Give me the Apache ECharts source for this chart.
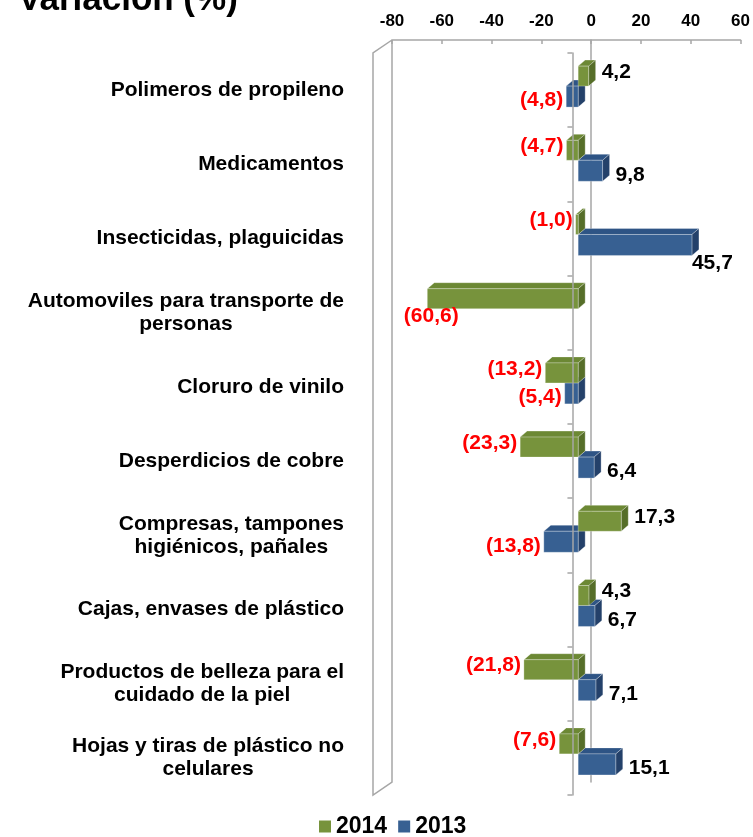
<!DOCTYPE html>
<html>
<head>
<meta charset="utf-8">
<script src="https://cdn.jsdelivr.net/npm/echarts@6/dist/echarts.min.js"></script>
<style>
  html, body { margin: 0; padding: 0; background: #ffffff; }
  #chart { width: 753px; height: 837px; }
</style>
</head>
<body>
<div id="chart"></div>
<script>
// Product categories (top to bottom)
const categories = [
  'Polimeros de propileno',
  'Medicamentos',
  'Insecticidas, plaguicidas',
  'Automoviles para transporte de\npersonas',
  'Cloruro de vinilo',
  'Desperdicios de cobre',
  'Compresas, tampones\nhigiénicos, pañales',
  'Cajas, envases de plástico',
  'Productos de belleza para el\ncuidado de la piel',
  'Hojas y tiras de plástico no\ncelulares'
];

// Annual variation, %
const values2014 = [4.2, -4.7, -1.0, -60.6, -13.2, -23.3, 17.3, 4.3, -21.8, -7.6];
const values2013 = [-4.8, 9.8, 45.7, null, -5.4, 6.4, -13.8, 6.7, 7.1, 15.1];

// Value axis ticks
const axisMin = -80;
const axisMax = 60;
const axisStep = 20;

const seriesNames = ['2014', '2013'];

const FONT = "'Liberation Sans', Arial, sans-serif";
const GRID_LINE = '#A6A6A6';

// 3D look: back wall plane holds the value axis, front plane holds the category axis
const WALL = [-19, 13];       // front plane offset from back plane
const BAR_FRONT = -13;        // bar front face offset from back plane (x)
const BAR_DEPTH = [7, -6];    // extrusion of the bar toward the back

const COLORS = {
  '2014': { front: '#77933C', top: '#6C8834', side: '#566E29', edge: 'rgba(255,255,255,0.35)' },
  '2013': { front: '#376092', top: '#2E5485', side: '#24416A', edge: 'rgba(255,255,255,0.35)' }
};

const backGrid = { left: 392, right: 12, top: 40, bottom: 55 };
const frontGrid = {
  left: backGrid.left + WALL[0],
  right: backGrid.right - WALL[0],
  top: backGrid.top + WALL[1],
  bottom: backGrid.bottom - WALL[1]
};

function fmt(v) {
  const s = Math.abs(v).toFixed(1).replace('.', ',');
  return v < 0 ? '(' + s + ')' : s;
}

// slot 0 = upper bar of the pair, slot 1 = lower bar
function makeBarRenderer(name, slot) {
  const col = COLORS[name];
  return function (params, api) {
    const v = api.value(0);
    const cat = api.value(1);
    if (v == null || isNaN(v)) return null;
    const band = api.size([0, 1])[1];
    const p0 = api.coord([0, cat]);
    const p1 = api.coord([v, cat]);
    const c = p0[1];
    const top = slot === 0 ? c - 0.148 * band : c + 0.121 * band;
    const bot = slot === 0 ? c + 0.121 * band : c + 0.404 * band;
    const xa = Math.min(p0[0], p1[0]) + BAR_FRONT;
    const xb = Math.max(p0[0], p1[0]) + BAR_FRONT;
    const dx = BAR_DEPTH[0], dy = BAR_DEPTH[1];

    const children = [
      {
        type: 'polygon',
        shape: { points: [[xa, top], [xa + dx, top + dy], [xb + dx, top + dy], [xb, top]] },
        style: { fill: col.top, stroke: col.edge, lineWidth: 0.8 }
      },
      {
        type: 'polygon',
        shape: { points: [[xb, top], [xb + dx, top + dy], [xb + dx, bot + dy], [xb, bot]] },
        style: { fill: col.side, stroke: col.edge, lineWidth: 0.8 }
      },
      {
        type: 'rect',
        shape: { x: xa, y: top, width: xb - xa, height: bot - top },
        style: { fill: col.front, stroke: col.edge, lineWidth: 0.8 }
      }
    ];

    // value label
    const shift = slot === 0 ? -4 : 4;
    let tx, ty, align;
    const yc = (top + bot) / 2 + shift;
    if (Math.abs(v) > 40) {
      // long bars carry their label just under the far end
      ty = bot + 8;
      if (v < 0) { tx = xa + 4; align = 'center'; }
      else { tx = xb; align = 'left'; }
    } else if (v < 0) {
      tx = xa - 3; ty = yc; align = 'right';
    } else {
      tx = xb + 13; ty = yc; align = 'left';
    }
    children.push({
      type: 'text',
      x: tx, y: ty,
      z2: 20,
      style: {
        text: fmt(v),
        fill: v < 0 ? '#FF0000' : '#000000',
        fontSize: 21,
        fontWeight: 'bold',
        fontFamily: FONT,
        align: align,
        verticalAlign: 'middle'
      }
    });
    return { type: 'group', children: children };
  };
}

function renderWall(params, api) {
  const band = api.size([0, 1])[1];
  const a = api.coord([axisMin, 0]);
  const b = api.coord([axisMin, categories.length - 1]);
  const x = a[0];
  const y0 = a[1] - band / 2;
  const y1 = b[1] + band / 2;
  return {
    type: 'polyline',
    shape: {
      points: [[x, y0], [x, y1], [x + WALL[0], y1 + WALL[1]], [x + WALL[0], y0 + WALL[1]], [x, y0]]
    },
    style: { stroke: GRID_LINE, lineWidth: 1.5, fill: null }
  };
}

const chart = echarts.init(document.getElementById('chart'), null, { renderer: 'canvas' });

const labelRich = {
  c: {
    align: 'center',
    fontSize: 21,
    fontWeight: 'bold',
    fontFamily: FONT,
    color: '#000000',
    lineHeight: 23
  }
};

const option = {
  backgroundColor: '#ffffff',
  animation: false,
  title: {
    text: 'Variación (%)',
    left: 18,
    top: -17,
    padding: 0,
    textStyle: { fontSize: 35, fontWeight: 'bold', fontFamily: FONT, color: '#000000' }
  },
  legend: {
    data: seriesNames,
    left: 319,
    top: 815,
    padding: 0,
    itemWidth: 12,
    itemHeight: 12,
    itemGap: 11,
    icon: 'rect',
    textStyle: { fontSize: 23, fontWeight: 'bold', fontFamily: FONT, color: '#000000' }
  },
  grid: [
    Object.assign({}, backGrid),
    Object.assign({}, frontGrid)
  ],
  xAxis: [
    {
      gridIndex: 0,
      type: 'value',
      position: 'top',
      min: axisMin,
      max: axisMax,
      interval: axisStep,
      axisLine: { show: true, lineStyle: { color: GRID_LINE, width: 1.5 } },
      axisTick: { show: true, inside: true, length: 4, lineStyle: { color: GRID_LINE, width: 1.5 } },
      splitLine: { show: false },
      axisLabel: {
        margin: 10,
        fontSize: 17,
        fontWeight: 'bold',
        fontFamily: FONT,
        color: '#000000'
      }
    },
    {
      gridIndex: 1,
      type: 'value',
      min: axisMin,
      max: axisMax,
      interval: axisStep,
      show: false
    }
  ],
  yAxis: [
    {
      // back wall zero line
      gridIndex: 0,
      type: 'category',
      inverse: true,
      data: categories,
      axisLine: { show: true, onZero: true, lineStyle: { color: GRID_LINE, width: 1.5 } },
      axisTick: { show: false },
      axisLabel: { show: false },
      splitLine: { show: false }
    },
    {
      // category names
      gridIndex: 1,
      type: 'category',
      inverse: true,
      position: 'left',
      data: categories,
      axisLine: { show: false, onZero: false },
      axisTick: { show: false },
      splitLine: { show: false },
      axisLabel: {
        margin: 29,
        formatter: function (value) {
          return value.split('\n').map(function (l) { return '{c|' + l + '}'; }).join('\n');
        },
        rich: labelRich
      }
    },
    {
      // front category axis at zero
      gridIndex: 1,
      type: 'category',
      inverse: true,
      position: 'left',
      data: categories,
      z: 10,
      axisLine: { show: true, onZero: true, lineStyle: { color: GRID_LINE, width: 1.5 } },
      axisTick: { show: true, length: 5, lineStyle: { color: GRID_LINE, width: 1.5 } },
      axisLabel: { show: false },
      splitLine: { show: false }
    }
  ],
  series: [
    {
      type: 'custom',
      xAxisIndex: 0,
      yAxisIndex: 0,
      silent: true,
      z: 1,
      renderItem: renderWall,
      data: [[axisMin, 0]],
      encode: { x: 0, y: 1 }
    },
    {
      name: '2013',
      type: 'custom',
      xAxisIndex: 0,
      yAxisIndex: 0,
      z: 3,
      itemStyle: { color: COLORS['2013'].front },
      renderItem: makeBarRenderer('2013', 1),
      data: values2013.map(function (v, i) { return [v, i]; }),
      encode: { x: 0, y: 1 }
    },
    {
      name: '2014',
      type: 'custom',
      xAxisIndex: 0,
      yAxisIndex: 0,
      z: 4,
      itemStyle: { color: COLORS['2014'].front },
      renderItem: makeBarRenderer('2014', 0),
      data: values2014.map(function (v, i) { return [v, i]; }),
      encode: { x: 0, y: 1 }
    }
  ]
};

chart.setOption(option);
</script>
</body>
</html>
